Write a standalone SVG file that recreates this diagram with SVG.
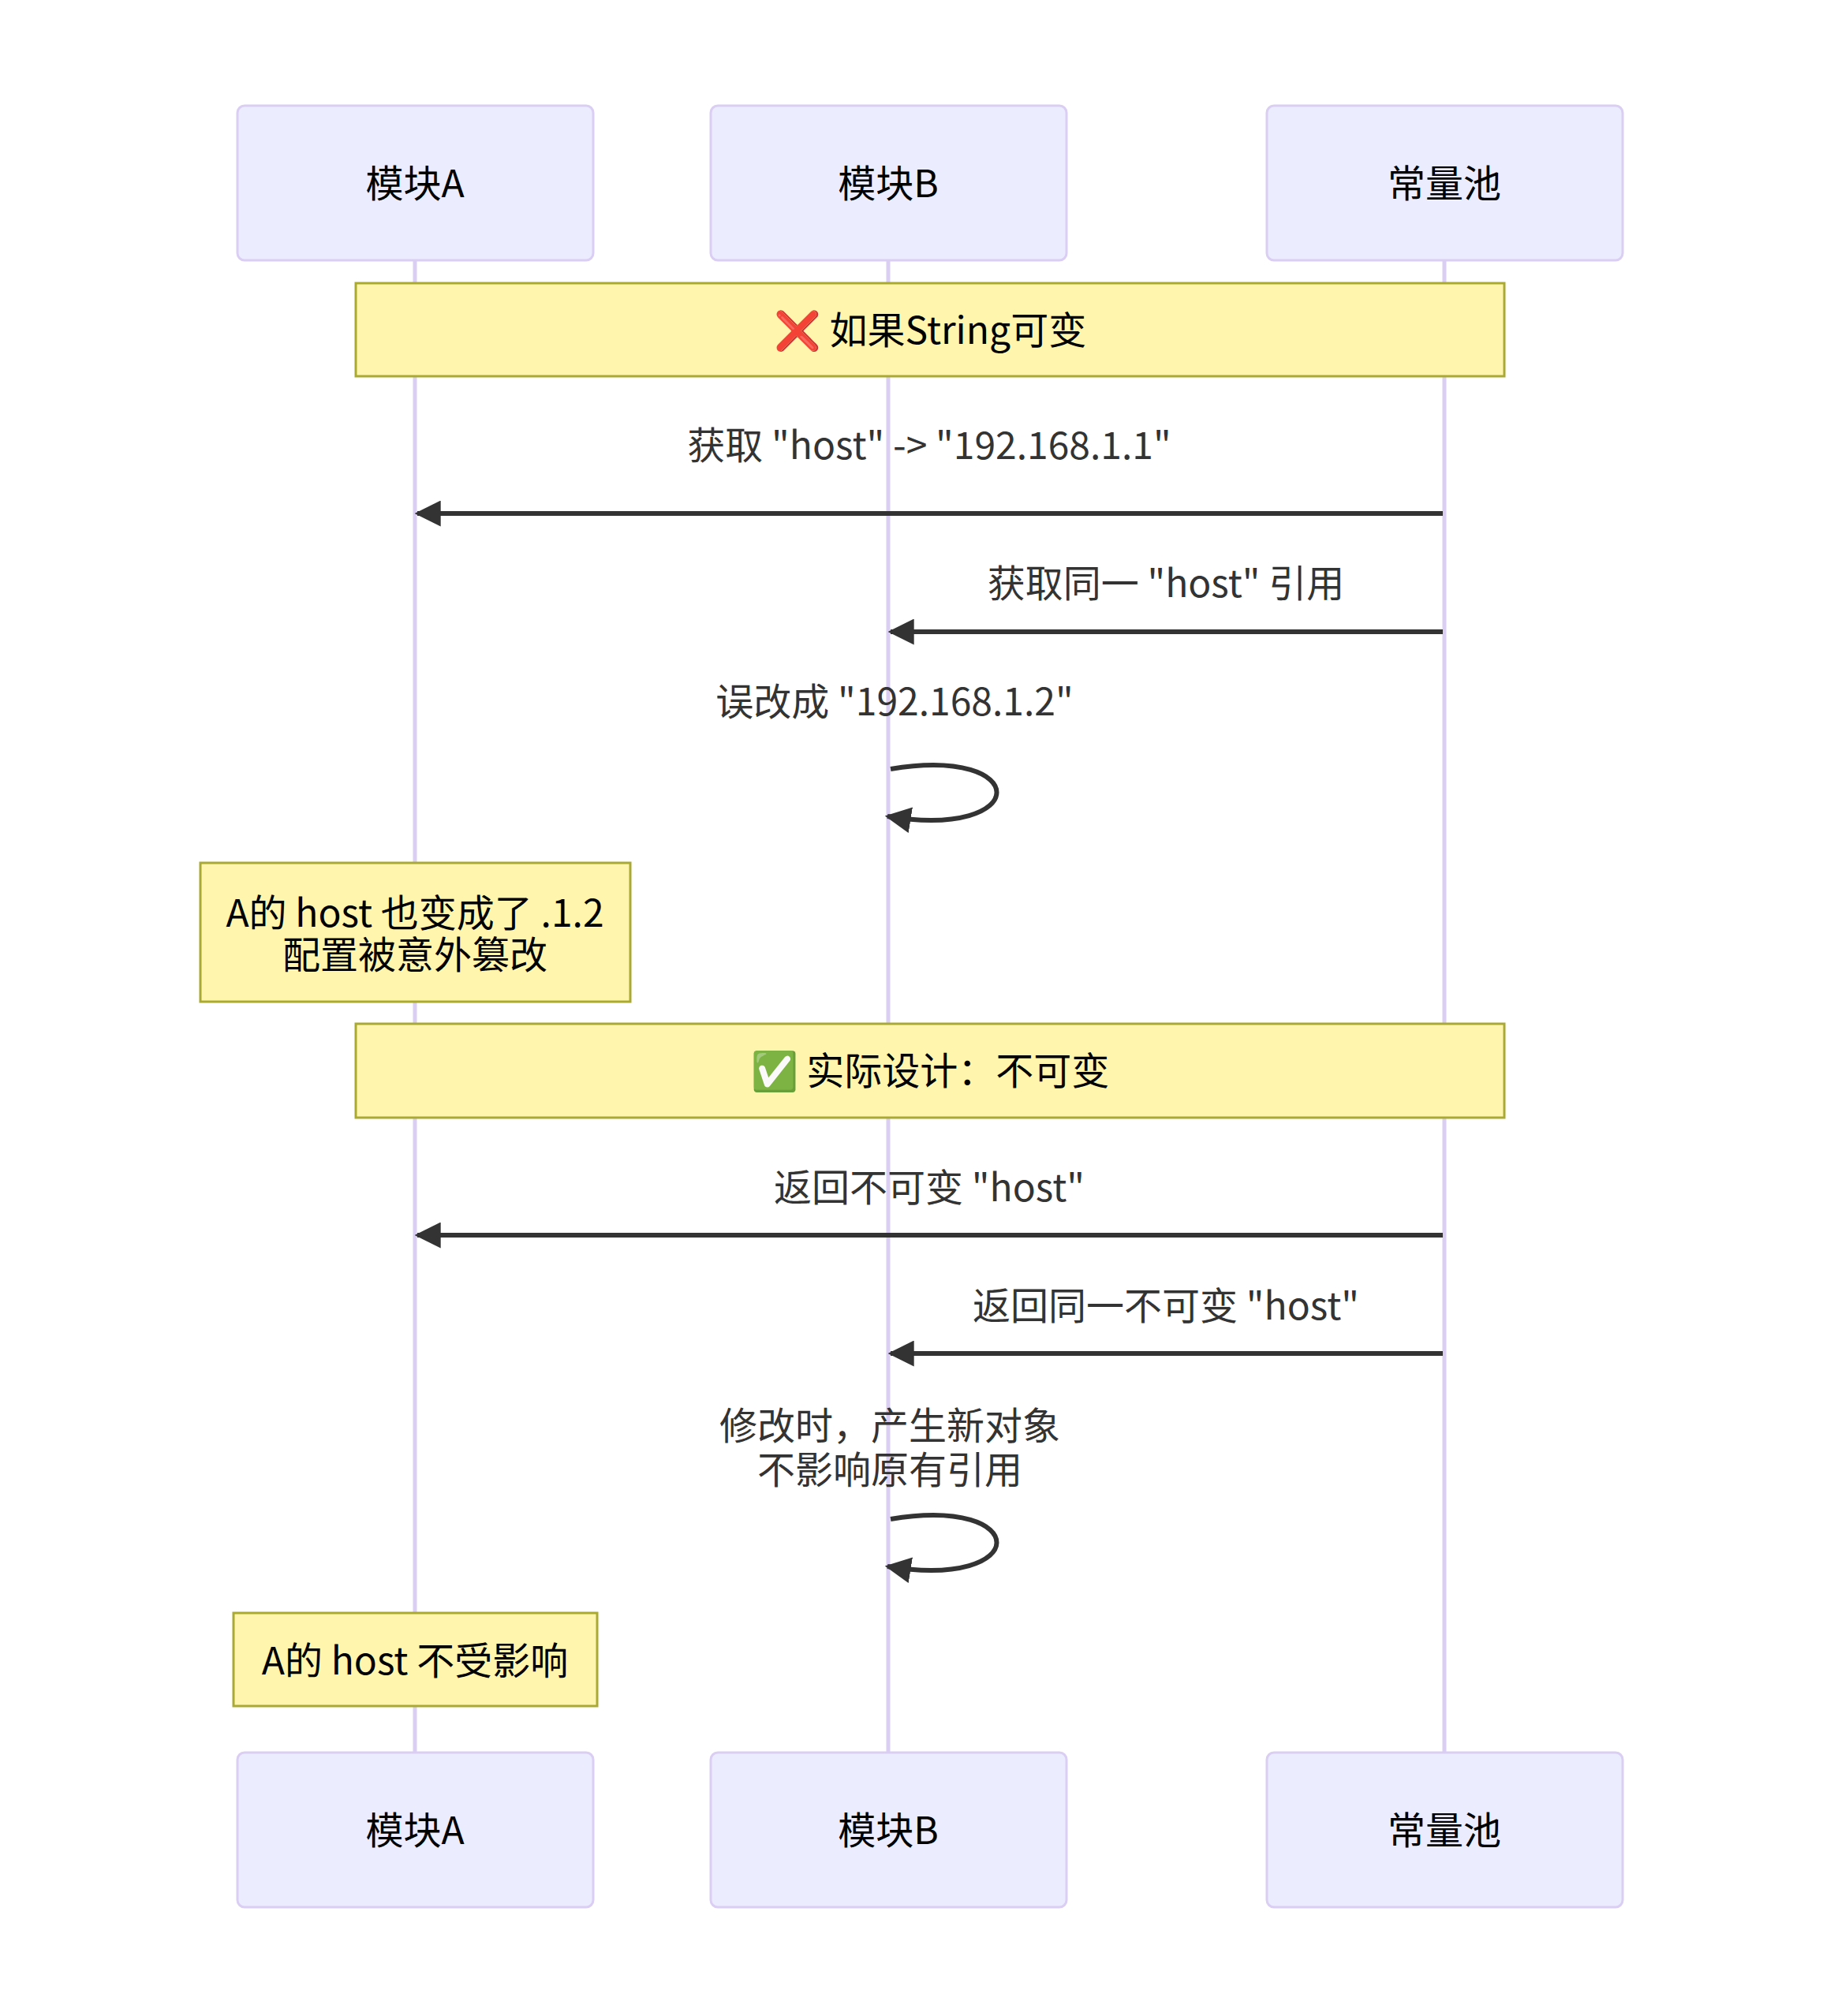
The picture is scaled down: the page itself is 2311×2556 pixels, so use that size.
<svg xmlns="http://www.w3.org/2000/svg" width="2311" height="2556" viewBox="0 0 2311 2556">
<style>
.actor{fill:#ECECFF;stroke:#DACEF3;stroke-width:3}
.actorText{font-family:"Noto Sans CJK SC","Noto Sans",sans-serif;font-size:48px;fill:#000;text-anchor:middle;dominant-baseline:central}
.lifeline{stroke:#DACEF3;stroke-width:5}
.note{fill:#fff5ad;stroke:#aaaa33;stroke-width:3}
.noteText{font-family:"Noto Sans CJK SC","Noto Sans",sans-serif;font-size:48px;fill:#000;text-anchor:middle;dominant-baseline:central}
.msg{stroke:#333;stroke-width:6;fill:none}
.msgText{font-family:"Noto Sans CJK SC","Noto Sans",sans-serif;font-size:48px;fill:#333;text-anchor:middle;dominant-baseline:central}
</style>
<defs>
<marker id="arrowhead" viewBox="0 0 10 10" refX="9" refY="5" markerUnits="userSpaceOnUse" markerWidth="33" markerHeight="33" orient="auto">
<path d="M0,0 L10,5 L0,10 z" fill="#333" stroke="none"/>
</marker>
</defs>
<rect x="0" y="0" width="2311" height="2556" fill="#fff"/>
<g id="lifelines">
<line class="lifeline" x1="526" y1="330" x2="526" y2="2222"/>
<line class="lifeline" x1="1126" y1="330" x2="1126" y2="2222"/>
<line class="lifeline" x1="1831" y1="330" x2="1831" y2="2222"/>
</g>
<g id="actor-A-top"><rect class="actor" x="301" y="134" width="451" height="196" rx="9"/><text class="actorText" x="526" y="229">模块A</text></g>
<g id="actor-B-top"><rect class="actor" x="901" y="134" width="451" height="196" rx="9"/><text class="actorText" x="1126" y="229">模块B</text></g>
<g id="actor-Pool-top"><rect class="actor" x="1606" y="134" width="451" height="196" rx="9"/><text class="actorText" x="1831" y="229">常量池</text></g>
<g id="note-mutable"><rect class="note" x="451" y="359" width="1456" height="118"/><text class="noteText" x="1179" y="415">❌ 如果String可变</text></g>
<g id="note-A-changed"><rect class="note" x="254" y="1094" width="545" height="176"/><text class="noteText" x="526" y="1154">A的 host 也变成了 .1.2</text><text class="noteText" x="526" y="1207">配置被意外篡改</text></g>
<g id="note-immutable"><rect class="note" x="451" y="1298" width="1456" height="119"/><text class="noteText" x="1179" y="1354">✅ 实际设计：不可变</text></g>
<g id="note-A-unaffected"><rect class="note" x="296" y="2045" width="461" height="118"/><text class="noteText" x="526" y="2102">A的 host 不受影响</text></g>
<g id="connectors">
<line class="msg" x1="1829" y1="651" x2="529" y2="651" marker-end="url(#arrowhead)"/>
<text class="msgText" x="1178" y="561">获取 "host" -&gt; "192.168.1.1"</text>
<line class="msg" x1="1829" y1="801" x2="1129" y2="801" marker-end="url(#arrowhead)"/>
<text class="msgText" x="1478" y="736">获取同一 "host" 引用</text>
<path class="msg" d="M1129,975 C1309,945 1309,1065 1125,1035" marker-end="url(#arrowhead)"/>
<text class="msgText" x="1134" y="886">误改成 "192.168.1.2"</text>
<line class="msg" x1="1829" y1="1566" x2="529" y2="1566" marker-end="url(#arrowhead)"/>
<text class="msgText" x="1178" y="1502">返回不可变 "host"</text>
<line class="msg" x1="1829" y1="1716" x2="1129" y2="1716" marker-end="url(#arrowhead)"/>
<text class="msgText" x="1478" y="1652">返回同一不可变 "host"</text>
<path class="msg" d="M1129,1926 C1309,1896 1309,2016 1125,1986" marker-end="url(#arrowhead)"/>
<text class="msgText" x="1128" y="1804">修改时，产生新对象</text>
<text class="msgText" x="1128" y="1860">不影响原有引用</text>
</g>
<g id="actor-A-bottom"><rect class="actor" x="301" y="2222" width="451" height="196" rx="9"/><text class="actorText" x="526" y="2317">模块A</text></g>
<g id="actor-B-bottom"><rect class="actor" x="901" y="2222" width="451" height="196" rx="9"/><text class="actorText" x="1126" y="2317">模块B</text></g>
<g id="actor-Pool-bottom"><rect class="actor" x="1606" y="2222" width="451" height="196" rx="9"/><text class="actorText" x="1831" y="2317">常量池</text></g>
</svg>
